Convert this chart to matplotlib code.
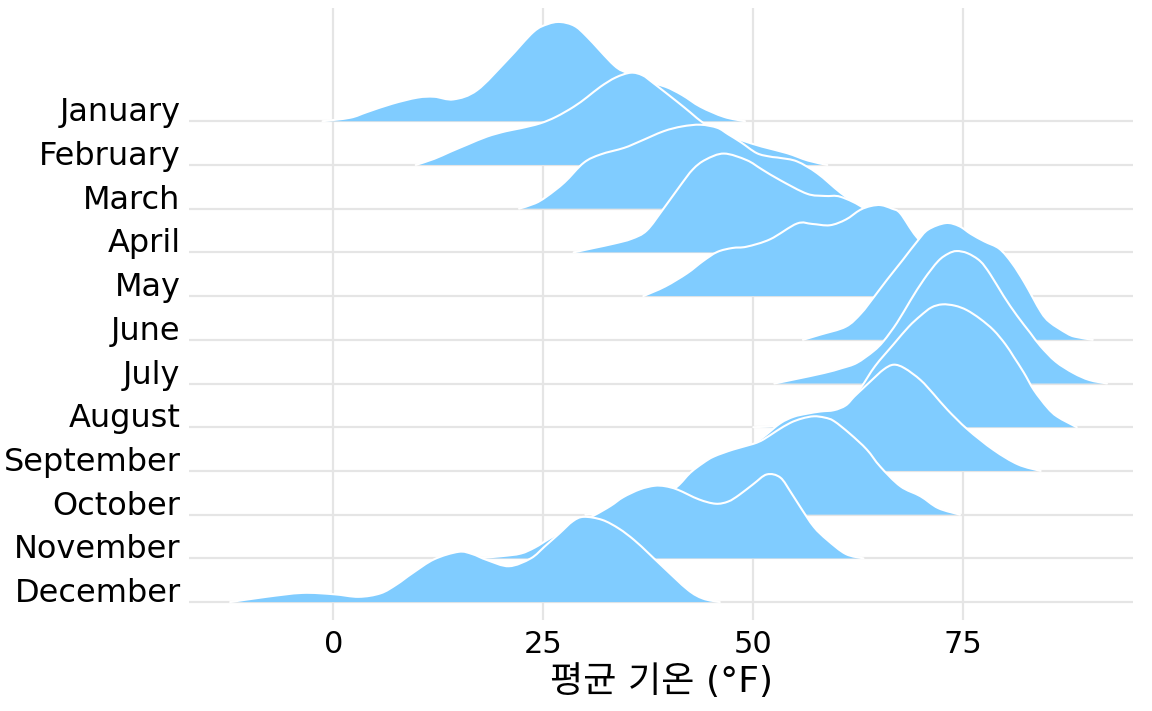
import matplotlib
matplotlib.use("Agg")
from matplotlib import pyplot as plt
from matplotlib.path import Path
from matplotlib.patches import PathPatch

# Dados: temperatura (°F) e altura da densidade em unidades de linha
months = ["January", "February", "March", "April", "May", "June",
          "July", "August", "September", "October", "November", "December"]

jan_x = [-1.3, 2, 4.0, 7, 10.0, 12, 14.3, 17.1, 20.7, 23.8, 25.5, 27.0, 28.7, 30.2,
         33.4, 35, 37, 39.5, 41.5, 43.7, 46.5, 49.0]
jan_h = [0, 0.08, 0.21, 0.4, 0.54, 0.56, 0.50, 0.71, 1.40, 2.04, 2.22, 2.27, 2.18, 1.93,
         1.28, 1.1, 0.92, 0.79, 0.6, 0.33, 0.1, 0]

feb_x = [9.8, 12, 13.9, 16, 18.3, 20.5, 22.3, 24.6, 26.5, 28.6, 30.2, 31.8, 33.6, 35.4,
         36.8, 38.1, 40.9, 42.5, 44.1, 46, 48.5, 51, 54, 56.5, 58.8]
feb_h = [0, 0.14, 0.30, 0.47, 0.65, 0.77, 0.84, 0.95, 1.1, 1.33, 1.55, 1.79, 2.0, 2.11,
         2.05, 1.87, 1.45, 1.2, 0.95, 0.74, 0.57, 0.42, 0.27, 0.1, 0]

mar_x = [22.1, 24, 25.4, 27.5, 29.8, 31.8, 34.6, 36.5, 39.3, 41.5, 43.7, 45.7, 47, 48.5,
         50.4, 52, 53.2, 55.2, 57.6, 60.4, 62.7, 63.5]
mar_h = [0, 0.12, 0.28, 0.6, 1.05, 1.24, 1.39, 1.54, 1.77, 1.88, 1.92, 1.85, 1.7, 1.52,
         1.27, 1.19, 1.16, 1.08, 0.81, 0.36, 0.05, 0]

apr_x = [28.6, 31, 33.4, 35.5, 37.3, 39.3, 41.3, 42.8, 44.3, 46.5, 49.2, 51, 53.2, 56.4,
         58.5, 60.4, 63.2, 64.8, 66.5, 68.5, 70]
apr_h = [0, 0.1, 0.2, 0.31, 0.5, 1.0, 1.53, 1.9, 2.12, 2.26, 2.11, 1.9, 1.65, 1.34,
         1.29, 1.27, 1.0, 0.6, 0.25, 0.05, 0]

may_x = [36.9, 39.5, 42.1, 44, 45.7, 47.5, 49.2, 52, 55.2, 57, 59.1, 61, 62.7, 64, 65.2,
         66.5, 67.5, 69.4, 72, 75, 78, 81, 83]
may_h = [0, 0.22, 0.52, 0.8, 1.01, 1.1, 1.13, 1.3, 1.66, 1.65, 1.62, 1.75, 1.97, 2.06, 2.08,
         2.0, 1.89, 1.36, 0.85, 0.45, 0.2, 0.05, 0]

jun_x = [55.9, 58, 61.0, 62.8, 64.4, 65.9, 67.8, 69.5, 70.8, 72.9, 74.5, 75.9, 77.5, 79.3,
         80.8, 82.3, 84.2, 85.3, 87.3, 88.3, 90.4]
jun_h = [0, 0.12, 0.30, 0.6, 0.99, 1.37, 1.83, 2.25, 2.52, 2.67, 2.6, 2.42, 2.25, 2.08,
         1.75, 1.3, 0.65, 0.4, 0.15, 0.07, 0]

jul_x = [52.5, 55, 58.4, 60.5, 62.3, 64.3, 65.5, 67.1, 68.7, 70.3, 72, 73.2, 74.2, 75.5,
         77, 78.2, 79.8, 81.4, 83, 84.2, 86, 88.1, 90, 92.1]
jul_h = [0, 0.1, 0.24, 0.35, 0.47, 0.74, 0.97, 1.39, 1.9, 2.38, 2.8, 2.97, 3.03, 2.98,
         2.8, 2.5, 2.0, 1.55, 1.15, 0.85, 0.5, 0.24, 0.08, 0]

aug_x = [50, 53, 55, 58, 60.5, 62.7, 64.5, 66.7, 68.5, 69.9, 71.2, 72.5, 74, 75.4, 77,
         78.6, 80, 81.0, 82.2, 83.4, 85, 86.2, 88.5]
aug_h = [0, 0.03, 0.08, 0.2, 0.35, 0.88, 1.4, 1.9, 2.3, 2.55, 2.74, 2.81, 2.78, 2.68, 2.48,
         2.22, 1.9, 1.61, 1.25, 0.85, 0.45, 0.24, 0]

sep_x = [43, 46, 49, 51.2, 53.2, 54.8, 56.4, 58, 59.6, 61, 62.0, 63, 64.0, 65.5, 66.7, 68,
         69.9, 71.5, 73.1, 75.5, 78.6, 81.5, 84.2]
sep_h = [0, 0.2, 0.48, 0.78, 1.09, 1.24, 1.31, 1.36, 1.39, 1.5, 1.7, 1.88, 2.06, 2.32, 2.43,
         2.35, 2.08, 1.75, 1.40, 0.95, 0.48, 0.15, 0]

oct_x = [30, 34, 37, 39, 40.9, 42.5, 44, 45.3, 47.6, 50.0, 51.2, 52.8, 54.4, 55.8, 57.2, 58.5,
         59.6, 61.5, 63.5, 65.1, 67.5, 69.9, 72, 74.6]
oct_h = [0, 0.08, 0.24, 0.43, 0.64, 0.96, 1.18, 1.33, 1.49, 1.62, 1.72, 1.92, 2.10, 2.2, 2.25,
         2.22, 2.14, 1.85, 1.49, 1.10, 0.65, 0.42, 0.15, 0]

nov_x = [17, 20, 22.3, 24, 25.8, 28.5, 31.0, 33, 34.5, 36.5, 38.2, 39.5, 41.0, 43.5, 45.5,
         47, 48.3, 50, 51.6, 53.2, 54.5, 55.6, 57.2, 58.8, 61, 63.1]
nov_h = [0, 0.05, 0.11, 0.25, 0.46, 0.75, 0.98, 1.2, 1.40, 1.58, 1.66, 1.65, 1.57, 1.35, 1.25,
         1.3, 1.45, 1.7, 1.92, 1.85, 1.5, 1.17, 0.72, 0.42, 0.1, 0]

dec_x = [-12.3, -8, -3.7, 0, 3.0, 5.6, 7.5, 9.4, 12, 14.9, 16.5, 18.3, 20.9, 23.5, 25.2,
         26.9, 28.5, 29.8, 32.0, 34, 35.8, 37.5, 39.2, 42.2, 44, 46.0]
dec_h = [0, 0.12, 0.21, 0.18, 0.12, 0.20, 0.4, 0.66, 0.98, 1.15, 1.1, 0.96, 0.82, 1.0, 1.28,
         1.57, 1.85, 1.95, 1.88, 1.68, 1.42, 1.12, 0.81, 0.28, 0.08, 0]

temps = [jan_x, feb_x, mar_x, apr_x, may_x, jun_x, jul_x, aug_x, sep_x, oct_x, nov_x, dec_x]
dens = [jan_h, feb_h, mar_h, apr_h, may_h, jun_h, jul_h, aug_h, sep_h, oct_h, nov_h, dec_h]

x_ticks = [0, 25, 50, 75]
x_label = "평균 기온 (°F)"


def smooth_path(xs, ys, close_to=None):
    # curva de Bézier que passa pelos pontos lidos (Catmull-Rom)
    pts = list(zip(xs, ys))
    verts = [pts[0]]
    codes = [Path.MOVETO]
    for k in range(len(pts) - 1):
        p0 = pts[k - 1] if k > 0 else pts[k]
        p1 = pts[k]
        p2 = pts[k + 1]
        p3 = pts[k + 2] if k + 2 < len(pts) else pts[k + 1]
        c1 = (p1[0] + (p2[0] - p0[0]) / 6, p1[1] + (p2[1] - p0[1]) / 6)
        c2 = (p2[0] - (p3[0] - p1[0]) / 6, p2[1] - (p3[1] - p1[1]) / 6)
        verts += [c1, c2, p2]
        codes += [Path.CURVE4] * 3
    if close_to is not None:
        verts += [(xs[-1], close_to), (xs[0], close_to), pts[0]]
        codes += [Path.LINETO, Path.LINETO, Path.CLOSEPOLY]
    return Path(verts, codes)


# Saída
fill = "#80ccff"
grid = "#e5e5e5"
fam = ["DejaVu Sans", "Noto Sans CJK KR"]

fig = plt.figure(figsize=(11.52, 7.11), dpi=100)
ax = fig.add_axes([189 / 1152, 1 - 620 / 711, (1133 - 189) / 1152, (620 - 8) / 711])

n = len(months)
bases = [n - 1 - i for i in range(n)]

for i in range(n):
    b = bases[i]
    top = [b + h for h in dens[i]]
    ax.add_patch(PathPatch(smooth_path(temps[i], top, close_to=b),
                           facecolor=fill, edgecolor="none", lw=0, zorder=2 * i + 2))
    ax.add_patch(PathPatch(smooth_path(temps[i], top), facecolor="none",
                           edgecolor="white", lw=1.5, zorder=2 * i + 3,
                           joinstyle="round", capstyle="round"))

ax.set_xlim(-17.2, 95.2)
ax.set_ylim(-0.41, 13.59)
ax.set_xticks(x_ticks)
ax.set_yticks(bases)
ax.set_yticklabels(months, fontsize=23, family=fam)
for lab in ax.get_yticklabels():
    lab.set_va("baseline")
ax.set_xticklabels([str(t) for t in x_ticks], fontsize=22, family=fam)
ax.tick_params(length=0, pad=7)
ax.tick_params(axis="y", pad=6)
ax.grid(True, color=grid, lw=1.6, zorder=0)
ax.set_axisbelow(True)
for s in ax.spines.values():
    s.set_visible(False)
ax.set_xlabel(x_label, fontsize=26, family=fam, labelpad=4)

fig.savefig("out.png", dpi=100)
